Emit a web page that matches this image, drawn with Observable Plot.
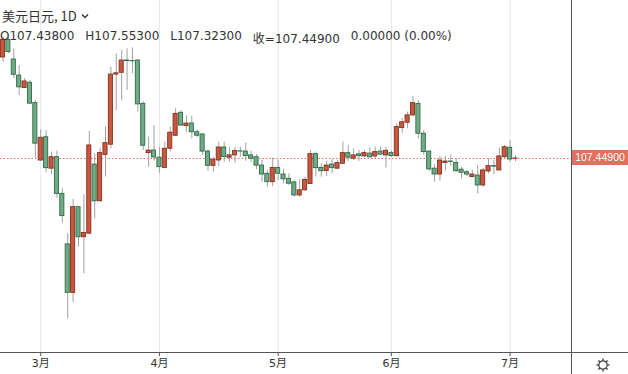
<!DOCTYPE html>
<html><head><meta charset="utf-8">
<script src="https://cdn.jsdelivr.net/npm/d3@7"></script>
<script src="https://cdn.jsdelivr.net/npm/@observablehq/plot@0.6"></script>
<style>
body{margin:0;background:#fff;}
#wrap{position:relative;width:628px;height:374px;overflow:hidden;font-family:"DejaVu Sans","Noto Sans CJK SC",sans-serif;color:#333;}
#wrap svg.main{position:absolute;left:0;top:0;}
.hdr1{position:absolute;left:2px;top:6px;font-size:13px;font-family:"Noto Sans CJK SC","DejaVu Sans",sans-serif;color:#333;display:flex;align-items:center;gap:4px;white-space:nowrap;}
.hdr1 svg{position:static;}
.hdr2{position:absolute;left:0px;top:29px;font-size:12px;color:#333;display:flex;gap:11px;white-space:nowrap;}
.hdr2 span.cn{font-family:"Noto Sans CJK SC",sans-serif;}
.vline{position:absolute;left:571px;top:0;width:1px;height:374px;background:#555;}
.hline{position:absolute;left:0;top:352px;width:628px;height:1px;background:#555;}
.plabel{position:absolute;left:572px;width:56px;height:15px;background:#e2705d;color:#fff;font-family:"Liberation Sans",Arial,sans-serif;font-size:10.5px;line-height:15px;text-align:center;}
#wrap svg.gear{position:absolute;left:595px;top:357px;}
</style></head><body><div id="wrap"></div>
<script>
const title = "美元日元, 1D";
const dates = ["2020-02-20","2020-02-21","2020-02-24","2020-02-25","2020-02-26","2020-02-27","2020-02-28",
"2020-03-02","2020-03-03","2020-03-04","2020-03-05","2020-03-06","2020-03-09","2020-03-10","2020-03-11","2020-03-12","2020-03-13",
"2020-03-16","2020-03-17","2020-03-18","2020-03-19","2020-03-20","2020-03-23","2020-03-24","2020-03-25","2020-03-26","2020-03-27","2020-03-30","2020-03-31",
"2020-04-01","2020-04-02","2020-04-03","2020-04-06","2020-04-07","2020-04-08","2020-04-09","2020-04-10","2020-04-13","2020-04-14","2020-04-15","2020-04-16","2020-04-17",
"2020-04-20","2020-04-21","2020-04-22","2020-04-23","2020-04-24","2020-04-27","2020-04-28","2020-04-29","2020-04-30",
"2020-05-01","2020-05-04","2020-05-05","2020-05-06","2020-05-07","2020-05-08","2020-05-11","2020-05-12","2020-05-13","2020-05-14","2020-05-15",
"2020-05-18","2020-05-19","2020-05-20","2020-05-21","2020-05-22","2020-05-25","2020-05-26","2020-05-27","2020-05-28","2020-05-29",
"2020-06-01","2020-06-02","2020-06-03","2020-06-04","2020-06-05","2020-06-08","2020-06-09","2020-06-10","2020-06-11","2020-06-12",
"2020-06-15","2020-06-16","2020-06-17","2020-06-18","2020-06-19","2020-06-22","2020-06-23","2020-06-24","2020-06-25","2020-06-26",
"2020-06-29","2020-06-30","2020-07-01","2020-07-02"];
const open = [111.41,112.10,111.33,110.70,110.21,110.42,109.62,107.37,108.28,107.05,107.50,106.06,104.08,102.18,105.54,104.36,104.50,107.21,105.77,107.59,107.99,110.74,110.81,111.29,111.27,111.29,109.59,107.66,107.76,107.48,107.08,107.83,108.34,109.24,108.72,108.82,108.48,108.39,107.72,107.16,107.37,107.88,107.48,107.57,107.73,107.72,107.57,107.50,107.17,106.85,106.52,107.08,106.82,106.65,106.51,106.00,106.20,106.45,107.62,107.08,106.96,107.21,107.05,107.24,107.66,107.44,107.61,107.53,107.64,107.53,107.72,107.57,107.66,107.54,108.64,108.85,109.14,109.59,108.42,107.72,107.05,106.82,107.27,107.33,107.27,107.01,106.91,106.72,106.78,106.39,106.94,107.15,106.98,107.50,107.87,107.438];
const high = [112.22,112.20,111.75,111.10,110.58,110.51,109.72,108.57,108.55,107.70,107.74,106.28,104.50,105.84,105.57,106.03,108.51,107.63,107.85,108.68,111.03,111.55,111.69,111.75,111.79,111.33,109.68,108.29,108.74,107.89,108.09,108.68,109.40,109.33,109.13,109.10,108.57,108.43,107.79,107.50,108.09,108.09,107.89,107.87,107.89,108.05,107.74,107.61,107.37,106.98,107.46,107.37,107.02,106.85,106.59,106.61,106.72,107.76,107.70,107.24,107.34,107.40,107.37,108.09,107.96,107.83,107.76,107.76,107.87,107.89,107.89,107.89,107.76,108.81,109.01,109.27,109.88,109.72,108.55,107.76,107.21,107.53,107.53,107.59,107.44,107.11,106.98,106.98,107.17,107.05,107.44,107.37,107.85,107.96,108.15,107.553];
const low = [111.23,111.55,110.59,109.92,110.20,109.57,107.46,107.33,106.89,106.81,105.89,104.91,101.16,101.81,103.97,102.93,104.47,105.08,105.76,106.72,107.83,109.33,109.72,110.12,110.77,109.27,107.76,107.11,107.35,106.87,107.06,107.70,108.31,108.70,108.48,108.22,108.27,107.57,106.95,106.91,107.14,107.30,107.30,107.27,107.50,107.34,107.30,107.01,106.52,106.32,106.34,106.59,106.46,106.39,105.93,105.93,106.17,106.43,106.72,106.72,106.74,106.85,107.02,107.23,107.34,107.37,107.34,107.48,107.44,107.44,107.57,107.08,107.50,107.50,108.44,108.61,109.07,108.22,107.57,106.94,106.52,106.56,106.95,107.14,106.91,106.65,106.74,106.69,106.06,106.32,106.85,106.82,106.98,107.44,107.30,107.323];
const close = [112.10,111.62,110.73,110.24,110.47,109.60,108.03,108.26,107.07,107.50,106.06,105.19,102.18,105.54,104.36,104.53,107.96,105.77,107.66,108.05,110.74,110.79,111.29,111.27,111.26,109.57,107.95,107.76,107.49,107.11,107.83,108.46,109.20,108.74,108.82,108.48,108.34,107.72,107.16,107.40,107.88,107.50,107.57,107.74,107.72,107.54,107.44,107.17,106.82,106.52,107.08,106.85,106.63,106.46,106.00,106.20,106.61,107.62,107.07,106.95,107.17,107.07,107.27,107.66,107.48,107.57,107.54,107.66,107.50,107.70,107.60,107.75,107.54,108.68,108.87,109.14,109.62,108.42,107.70,107.02,106.82,107.37,107.33,107.31,106.95,106.89,106.82,106.82,106.39,106.98,107.15,107.13,107.53,107.89,107.41,107.449];
const legendChange = 0.0;
const legendChangePct = 0.0;
const monthStarts = ["2020-03-02","2020-04-01","2020-05-01","2020-06-01","2020-07-01"];
const monthLabels = ["3月","4月","5月","6月","7月"];

const candles = dates.map((d, i) => ({i, date: d, o: open[i], h: high[i], l: low[i], c: close[i]}));
const last = candles[candles.length - 1];
const tickIdx = monthStarts.map(d => dates.indexOf(d));
const labelOf = new Map(tickIdx.map((t, k) => [t, monthLabels[k]]));

const up = d => d.c >= d.o;
const W = 628, H = 374;
const plot = Plot.plot({
  width: W, height: H,
  marginLeft: 0, marginRight: 57, marginTop: 0, marginBottom: 22,
  style: {fontFamily: '"DejaVu Sans","Noto Sans CJK SC",sans-serif', fontSize: "11px", color: "#333", background: "transparent"},
  x: {type: "linear", domain: [-0.46, 105.38]},
  y: {domain: [99.84, 113.645], axis: null},
  marks: [
    Plot.ruleX(tickIdx, {stroke: "#e3e7ea", strokeWidth: 1}),
    Plot.ruleY([last.c], {stroke: "#e2705d", strokeDasharray: "1.5,2", strokeWidth: 1}),
    Plot.ruleX(candles, {x: "i", y1: "l", y2: "h", stroke: "#a0a0a0", strokeWidth: 1}),
    Plot.rect(candles, {
      x1: d => d.i - 0.38, x2: d => d.i + 0.38, y1: "o", y2: "c",
      fill: d => up(d) ? "#c9573f" : "#6fab86",
      stroke: d => up(d) ? "#86301f" : "#2f6a48", strokeWidth: 0.9
    }),
    Plot.axisX({ticks: tickIdx, tickFormat: d => labelOf.get(d), tickSize: 4, tickPadding: 3, stroke: "#555", fill: "#333", fontSize: 11, label: null})
  ]
});
plot.classList.add("main");

const wrap = document.getElementById("wrap");
wrap.appendChild(plot);

const fmt = v => v.toFixed(5);
const h1 = document.createElement("div");
h1.className = "hdr1";
h1.innerHTML = `<span>${title}</span><svg width="8" height="6" viewBox="0 0 8 6"><path d="M1 1.5 L4 4.5 L7 1.5" fill="none" stroke="#333" stroke-width="1.3"/></svg>`;
wrap.appendChild(h1);

const h2 = document.createElement("div");
h2.className = "hdr2";
h2.innerHTML = `<span>O${fmt(last.o)}</span><span>H${fmt(last.h)}</span><span>L${fmt(last.l)}</span><span><span class="cn">收</span>=${fmt(last.c)}</span><span>${legendChange.toFixed(5)} (${legendChangePct.toFixed(2)}%)</span>`;
wrap.appendChild(h2);

const vl = document.createElement("div"); vl.className = "vline"; wrap.appendChild(vl);
const hl = document.createElement("div"); hl.className = "hline"; wrap.appendChild(hl);

const yPix = plot.scale("y").apply(last.c);
const pl = document.createElement("div");
pl.className = "plabel";
pl.style.top = (yPix - 7.5) + "px";
pl.textContent = fmt(last.c);
wrap.appendChild(pl);

const gear = document.createElementNS("http://www.w3.org/2000/svg", "svg");
gear.setAttribute("class", "gear");
gear.setAttribute("width", "16"); gear.setAttribute("height", "16");
let g = `<circle cx="8" cy="8" r="4.2" fill="none" stroke="#444" stroke-width="1.2"/>`;
for (let k = 0; k < 8; k++) {
  const a = k * Math.PI / 4;
  g += `<line x1="${8 + 4.2 * Math.cos(a)}" y1="${8 + 4.2 * Math.sin(a)}" x2="${8 + 6.5 * Math.cos(a)}" y2="${8 + 6.5 * Math.sin(a)}" stroke="#444" stroke-width="1.4"/>`;
}
gear.innerHTML = g;
wrap.appendChild(gear);
</script></body></html>
